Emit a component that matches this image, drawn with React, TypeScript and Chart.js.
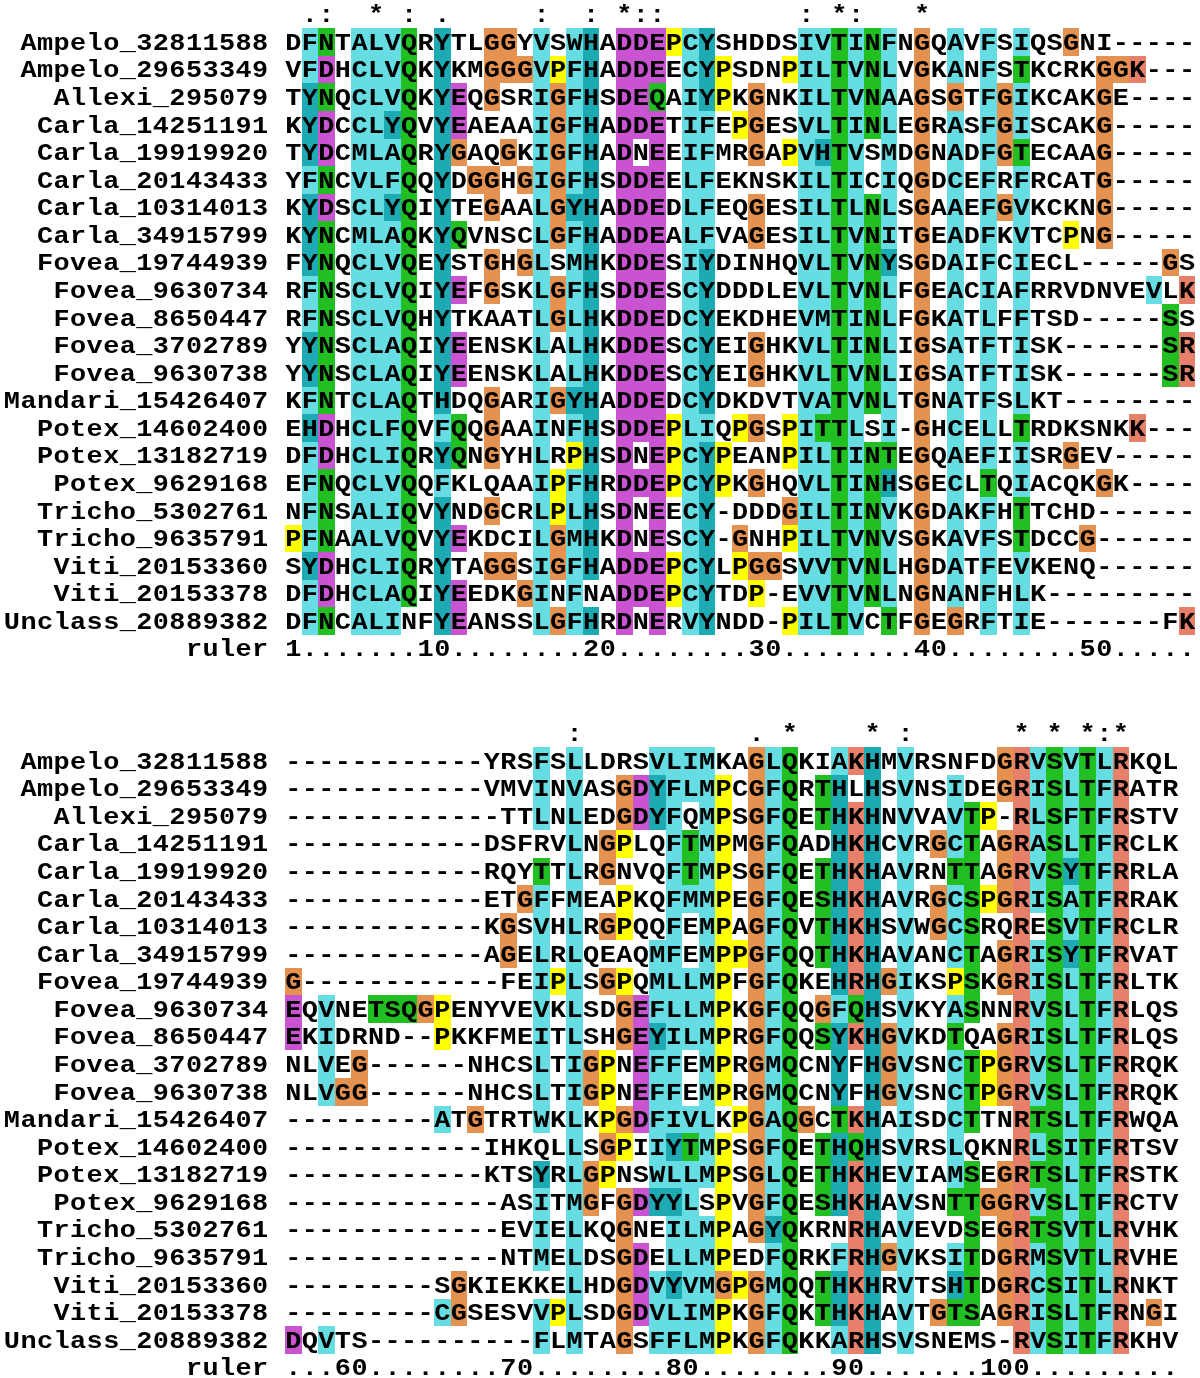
import React, { useEffect, useRef } from "react";
import { Chart, registerables } from "chart.js";

Chart.register(...registerables);

// ---------------- data ----------------
const SEQ_NAMES = [
  "Ampelo_32811588",
  "Ampelo_29653349",
  "Allexi_295079",
  "Carla_14251191",
  "Carla_19919920",
  "Carla_20143433",
  "Carla_10314013",
  "Carla_34915799",
  "Fovea_19744939",
  "Fovea_9630734",
  "Fovea_8650447",
  "Fovea_3702789",
  "Fovea_9630738",
  "Mandari_15426407",
  "Potex_14602400",
  "Potex_13182719",
  "Potex_9629168",
  "Tricho_5302761",
  "Tricho_9635791",
  "Viti_20153360",
  "Viti_20153378",
  "Unclass_20889382",
];

// alignment columns 1-55
const TOP_BLOCK = [
  "DFNTALVQRYTLGGYVSWHADDEPCYSHDDSIVTINFNGQAVFSIQSGNI-----",
  "VFDHCLVQKYKMGGGVPFHADDEECYPSDNPILTVNLVGKANFSTKCRKGGK---",
  "TYNQCLVQKYEQGSRIGFHSDEQAIYPKGNKILTVNAAGSGTFGIKCAKGE----",
  "KYDCCLYQVYEAEAAIGFHADDETIFEPGESVLTINLEGRASFGISCAKG-----",
  "TYDCMLAQRYGAQGKIGFHADNEEIFMRGAPVHTVSMDGNADFGTECAAG-----",
  "YFNCVLFQQYDGGHGIGFHSDDEELFEKNSKILTICIQGDCEFRFRCATG-----",
  "KYDSCLYQIYTEGAALGYHADDEDLFEQGESILTLNLSGAAEFGVKCKNG-----",
  "KYNCMLAQKYQVNSCLGFHADDEALFVAGESILTVNITGEADFKVTCPNG-----",
  "FYNQCLVQEYSTGHGLSMHKDDESIYDINHQVLTVNYSGDAIFCIECL-----GS",
  "RFNSCLVQIYEFGSKLGFHSDDESCYDDDLEVLTVNLFGEACIAFRRVDNVEVLK",
  "RFNSCLVQHYTKAATLGLHKDDEDCYEKDHEVMTINLFGKATLFFTSD-----SS",
  "YYNSCLAQIYEENSKLALHKDDESCYEIGHKVLTINLIGSATFTISK------SR",
  "YYNSCLAQIYEENSKLALHKDDESCYEIGHKVLTVNLIGSATFTISK------SR",
  "KFNTCLAQTHDQGARIGYHADDEDCYDKDVTVATVNLTGNATFSLKT--------",
  "EHDHCLFQVFQQGAAINFHSDDEPLIQPGSPITTLSI-GHCELLTRDKSNKK---",
  "DFDHCLIQRYQNGYHLRPHSDNEPCYPEANPILTINTEGQAEFIISRGEV-----",
  "EFNQCLVQQFKLQAAIPFHRDDEPCYPKGHQVLTINHSGECLTQIACQKGK----",
  "NFNSALIQVYNDGCRLPLHSDNEECY-DDDGILTINVKGDAKFHTTCHD------",
  "PFNAALVQVYEKDCILGMHKDNESCY-GNHPILTVNVSGKAVFSTDCCG------",
  "SYDHCLIQRYTAGGSIGFHADDEPCYLPGGSVVTVNLHGDATFEVKENQ------",
  "DFDHCLAQIYEEDKGINFNADDEPCYTDP-EVVTVNLNGNANFHLK---------",
  "DFNCALINFYEANSSLGFHRDNERVYNDD-PILTVCTFGEGRFTIE-------FK",
];

// alignment columns 56-109
const BOTTOM_BLOCK = [
  "------------YRSFSLLDRSVLIMKAGLQKIAKHMVRSNFDGRVSVTLRKQL",
  "------------VMVINVASGDYFLMPCGFQRTHLHSVNSIDEGRISLTFRATR",
  "-------------TTLNLEDGDYFQMPSGFQETHKHNVVAVTP-RLSFTFRSTV",
  "------------DSFRVLNGPLQFTMPMGFQADHKHCVRGCTAGRASLTFRCLK",
  "------------RQYTTLRGNVQFTMPSGFQETHKHAVRNTTAGRVSYTFRRLA",
  "------------ETGFFMEAPKQFMMPEGFQESHKHAVRGCSPGRISATFRRAK",
  "------------KGSVHLRGPQQFEMPAGFQVTHKHSVWGCSRQRESVTFRCLR",
  "------------AGELRLQEAQMFEMPPGFQQTHKHAVANCTAGRISYTFRVAT",
  "G------------FEIPLSGPQMLLMPFGFQKEHRHGIKSPSKGRISLTFRLTK",
  "EQVNETSQGPENYVEVKLSDGEFLLMPKGFQQGFQHSVKYASNNRVSLTFRLQS",
  "EKIDRND--PKKFMEITLSHGEYILMPRGFQQSYKHGVKDTQAGRISLTFRLQS",
  "NLVEG------NHCSLTIGPNEFFEMPRGMQCNYFHGVSNCTPGRVSLTFRRQK",
  "NLVGG------NHCSLTIGPNEFFEMPRGMQCNYFHGVSNCTPGRVSLTFRRQK",
  "---------ATGTRTWKLKPGDFIVLKPGAQGCTKHAISDCTTNRTSLTFRWQA",
  "------------IHKQLLSGPIIYTMPSGFQETHQHSVRSLQKNRLSITFRTSV",
  "------------KTSYRLGPNSWLLMPSGLQETHKHEVIAMSEGRTSLTFRSTK",
  "-------------ASITMGFGDYYLSPVGFQESHKHAVSNTTGGRVSLTFRCTV",
  "-------------EVIELKQGNEILMPAGYQKRNRHAVEVDSEGRTSVTLRVHK",
  "-------------NTMELDSGDELLMPEDFQRKFRHGVKSITDGRMSVTLRVHE",
  "---------SGKIEKKELHDGDVYVMGPGMQQTHKHRVTSHTDGRCSITLRNKT",
  "---------CGSESVVPLSDGDVLIMPKGFQKTHKHAVTGTSAGRISLTFRNGI",
  "DQVTS----------FLMTAGSFFLMPKGFQKKARHSVSNEMS-RVSITFRKHV",
];

// conservation marks: [column within block (1-based), symbol]
const TOP_CONSENSUS: [number, string][] = [
  [2, "."], [3, ":"], [6, "*"], [8, ":"], [10, "."], [16, ":"], [19, ":"],
  [21, "*"], [22, ":"], [23, ":"], [32, ":"], [34, "*"], [35, ":"], [39, "*"],
];
const BOTTOM_CONSENSUS: [number, string][] = [
  [18, ":"], [29, "."], [31, "*"], [36, "*"], [38, ":"], [45, "*"],
  [47, "*"], [49, "*"], [50, ":"], [51, "*"],
];

const RULER_TICKS = [1, 10, 20, 30, 40, 50, 60, 70, 80, 90, 100];
const BLOCK_STARTS = [1, 56];

// ---------------- styling ----------------
const PALETTE: Record<string, string> = {
  blue: "#66DDE3",
  cyan: "#1DAAB3",
  green: "#22BF22",
  orange: "#E5914F",
  magenta: "#C953D1",
  yellow: "#FFFF00",
  red: "#E6806B",
  pink: "#F08080",
};
const FONT = 'bold 24px "Liberation Mono", "Courier New", monospace';
const GLYPH_STRETCH = 1.12;
const BLOCK_Y = [0, 26.076]; // row origin of each block on the y scale
const BASELINE_SHIFT = 0.28; // in row units

// ClustalX colouring: one consensus symbol per column (last satisfied wins)
const HYDRO = "WLVIMAFCYHP";
const CONSENSUS_PARAMS: [string, string, number][] = [
  ["%", HYDRO, 60],
  ["#", HYDRO, 80],
  ["-", "ED", 50],
  ["+", "KR", 60],
  ["g", "G", 50],
  ["n", "N", 50],
  ["q", "QE", 50],
  ["p", "P", 50],
  ["t", "TS", 50],
  ...("ACDEFGHIKLMNPQRSTVWY".split("").map((a) => [a, a, 85] as [string, string, number])),
];
const BLUE_COND = ["%", "#", "A", "C", "F", "H", "I", "L", "M", "V", "W", "Y", "P", "p"];
const RULES: [string, string, string[] | null][] = [
  ["G", "orange", null],
  ["P", "yellow", null],
  ["T", "green", ["t", "S", "T", "%", "#"]],
  ["S", "green", ["t", "S", "T"]],
  ["N", "green", ["n", "N", "D"]],
  ["Q", "green", ["q", "E", "+", "K", "R", "Q"]],
  ["WLVIMF", "blue", BLUE_COND],
  ["A", "blue", [...BLUE_COND, "T", "S", "G"]],
  ["C", "blue", ["%", "#", "A", "F", "H", "I", "L", "M", "V", "W", "Y", "S", "P", "p"]],
  ["C", "pink", ["C"]],
  ["HY", "cyan", BLUE_COND],
  ["E", "magenta", ["-", "D", "E", "q", "Q"]],
  ["D", "magenta", ["-", "D", "E", "n", "N"]],
  ["KR", "red", ["+", "K", "R", "Q"]],
];

function columnConsensus(col: string[]): string {
  const res = col.filter((c) => c !== "-");
  const n = res.length;
  let cons = "";
  if (!n) return cons;
  for (const [sym, set, cut] of CONSENSUS_PARAMS) {
    const k = res.filter((c) => set.includes(c)).length;
    if (k * 100 >= cut * n) cons = sym;
  }
  return cons;
}

function residueColor(ch: string, cons: string): string | null {
  for (const [res, color, cond] of RULES) {
    if (!res.includes(ch)) continue;
    if (cond === null || cond.includes(cons)) return color;
  }
  return null;
}

function buildDatasets() {
  const cells: Record<string, { x: number; y: number }[]> = {};
  Object.keys(PALETTE).forEach((k) => (cells[k] = []));
  const letters: { x: number; y: number; ch: string }[] = [];

  [TOP_BLOCK, BOTTOM_BLOCK].forEach((block, b) => {
    const y0 = BLOCK_Y[b];
    const len = Math.max(...block.map((s) => s.length));
    for (let c = 0; c < len; c++) {
      const col = block.map((s) => s[c] || "-");
      const cons = columnConsensus(col);
      col.forEach((ch, r) => {
        if (ch === "-") return;
        const color = residueColor(ch, cons);
        if (color) cells[color].push({ x: c + 1, y: y0 + r });
      });
    }
    block.forEach((s, r) => {
      for (let c = 0; c < s.length; c++) letters.push({ x: c + 1, y: y0 + r, ch: s[c] });
      const name = SEQ_NAMES[r];
      for (let k = 0; k < name.length; k++) letters.push({ x: k - name.length, y: y0 + r, ch: name[k] });
    });
    const consMarks = b === 0 ? TOP_CONSENSUS : BOTTOM_CONSENSUS;
    consMarks.forEach(([c, sym]) => letters.push({ x: c, y: y0 - 1, ch: sym }));
    const start = BLOCK_STARTS[b];
    const chars = new Array(len).fill(".");
    RULER_TICKS.forEach((t) => {
      const s = String(t);
      for (let k = 0; k < s.length; k++) {
        const pos = t - s.length + 1 + k - start;
        if (pos >= 0 && pos < len) chars[pos] = s[k];
      }
    });
    chars.forEach((ch, c) => letters.push({ x: c + 1, y: y0 + block.length, ch }));
    const label = "ruler";
    for (let k = 0; k < label.length; k++) letters.push({ x: k - label.length, y: y0 + block.length, ch: label[k] });
  });

  const datasets: any[] = Object.keys(PALETTE).map((k) => ({
    label: k,
    kind: "cells",
    data: cells[k],
    backgroundColor: PALETTE[k],
    pointRadius: 0,
    pointHoverRadius: 0,
  }));
  datasets.push({
    label: "residues",
    kind: "text",
    data: letters,
    color: "#000000",
    pointRadius: 0,
    pointHoverRadius: 0,
  });
  return datasets;
}

const alignmentPlugin = {
  id: "alignmentDraw",
  beforeDraw(chart: any) {
    const { ctx, width, height } = chart;
    ctx.save();
    ctx.fillStyle = "#ffffff";
    ctx.fillRect(0, 0, width, height);
    ctx.restore();
  },
  afterDatasetsDraw(chart: any) {
    const { ctx } = chart;
    const xs = chart.scales.x;
    const ys = chart.scales.y;
    ctx.save();
    chart.data.datasets.forEach((ds: any) => {
      if (ds.kind !== "cells") return;
      ctx.fillStyle = ds.backgroundColor;
      ds.data.forEach((p: any) => {
        const l = Math.round(xs.getPixelForValue(p.x - 0.5));
        const r = Math.round(xs.getPixelForValue(p.x + 0.5));
        const t = Math.round(ys.getPixelForValue(p.y - 0.5));
        const b = Math.round(ys.getPixelForValue(p.y + 0.5));
        ctx.fillRect(l, t, r - l, b - t);
      });
    });
    chart.data.datasets.forEach((ds: any) => {
      if (ds.kind !== "text") return;
      ctx.fillStyle = ds.color;
      ctx.font = FONT;
      ctx.textAlign = "center";
      ctx.textBaseline = "alphabetic";
      ds.data.forEach((p: any) => {
        ctx.save();
        ctx.translate(xs.getPixelForValue(p.x), ys.getPixelForValue(p.y + BASELINE_SHIFT));
        ctx.scale(GLYPH_STRETCH, 1);
        ctx.fillText(p.ch, 0, 0);
        ctx.restore();
      });
    });
    ctx.restore();
  },
};

export default function App() {
  const ref = useRef<HTMLCanvasElement>(null);
  useEffect(() => {
    document.body.style.margin = "0";
    const chart = new Chart(ref.current as HTMLCanvasElement, {
      type: "scatter",
      data: { datasets: buildDatasets() },
      options: {
        animation: false,
        responsive: false,
        devicePixelRatio: 1,
        events: [],
        layout: { padding: 0 },
        plugins: { legend: { display: false }, tooltip: { enabled: false } },
        scales: {
          x: { type: "linear", display: false, min: -16.721, max: 55.787 },
          y: { type: "linear", display: false, reverse: true, min: -1.527, max: 48.455 },
        },
      },
      plugins: [alignmentPlugin],
    } as any);
    return () => chart.destroy();
  }, []);
  return (
    <div style={{ position: "absolute", left: 0, top: 0, width: 1200, height: 1378, background: "#ffffff" }}>
      <canvas ref={ref} width={1200} height={1378} style={{ display: "block", width: 1200, height: 1378 }} />
    </div>
  );
}
